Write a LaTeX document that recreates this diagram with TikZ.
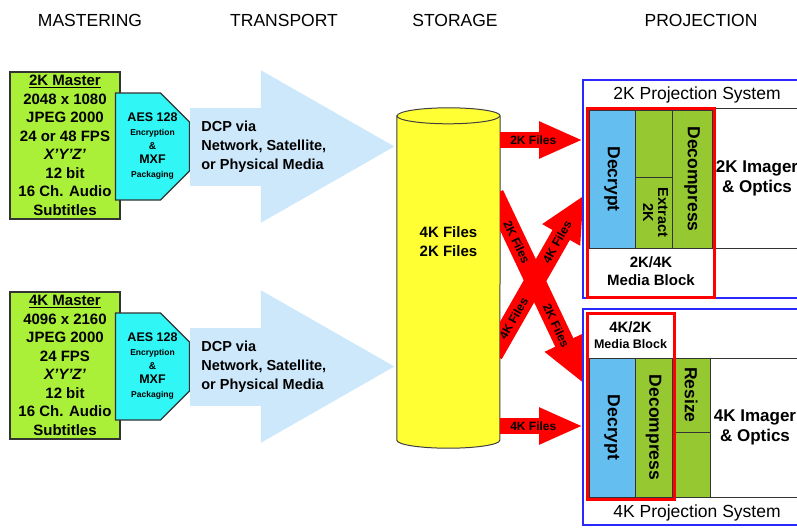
\documentclass[tikz,border=0pt]{standalone}
\usepackage{fontspec}
\setmainfont{Liberation Sans}
\usepackage{tikz}
\usetikzlibrary{arrows.meta,shapes.misc}

\definecolor{mastergreen}{RGB}{170,240,56}
\definecolor{aescyan}{RGB}{48,246,246}
\definecolor{dcpblue}{RGB}{205,232,250}
\definecolor{drumyellow}{RGB}{255,255,51}
\definecolor{sysblue}{RGB}{40,40,255}
\definecolor{cryptblue}{RGB}{100,190,240}
\definecolor{procgreen}{RGB}{150,200,50}

\newcommand{\aestext}{AES 128\\{\fontsize{8.5}{14}\selectfont Encryption}\\{\fontsize{10}{14}\selectfont\&}\\MXF\\{\fontsize{8.5}{14}\selectfont Packaging}}

\tikzset{
  head/.style={font=\fontsize{17.5}{20}\selectfont, inner sep=0pt},
  master/.style={draw=black!80, line width=1.2pt, fill=mastergreen, minimum width=110pt, minimum height=147pt,
    inner sep=0pt, align=center, font=\fontsize{15}{18.5}\selectfont\bfseries},
  aes/.style={chamfered rectangle, chamfered rectangle corners={north east,south east},
    chamfered rectangle xsep=12pt, chamfered rectangle ysep=17pt, draw=black!80, line width=1.2pt,
    fill=aescyan, minimum width=65pt, minimum height=107pt, inner sep=0pt, align=center,
    font=\fontsize{12.5}{14}\selectfont\bfseries},
  dcp/.style={line width=78pt, color=dcpblue, -{Triangle[width=142pt,length=136pt]}},
  dcptext/.style={align=left, inner sep=0pt, font=\fontsize{14.5}{19}\selectfont\bfseries},
  store/.style={minimum width=103pt, minimum height=324pt, inner sep=0pt},
  drum/.style={draw=black!75, line width=1pt, fill=drumyellow},
  files/.style={align=center, inner sep=0pt, font=\fontsize{15}{19}\selectfont\bfseries},
  fat/.style={line width=16pt, color=red, -{Triangle[width=34pt,length=44pt]}},
  fatx/.style={line width=20pt, color=red, -{Triangle[width=40pt,length=46pt]}, shorten <=-14pt},
  flbl/.style={text=black, inner sep=0pt, font=\fontsize{12}{12}\selectfont\bfseries},
  sys/.style={draw=sysblue, line width=1.8pt, fill=white, inner sep=0pt},
  systitle/.style={inner sep=0pt, font=\fontsize{17.5}{20}\selectfont},
  mblock/.style={draw=red, line width=3pt, inner sep=0pt},
  cell/.style={draw=black!80, line width=1pt, inner sep=0pt, font=\fontsize{17.5}{20}\selectfont\bfseries},
  crypt/.style={cell, fill=cryptblue},
  proc/.style={cell, fill=procgreen},
  imager/.style={cell, align=center, font=\fontsize{17}{20}\selectfont\bfseries},
  mbtext/.style={align=center, inner sep=0pt, font=\fontsize{15}{18}\selectfont\bfseries}
}

\begin{document}
\begin{tikzpicture}[x=1pt,y=1pt]
\useasboundingbox (0,0) rectangle (797,-527);
\clip (0,0) rectangle (797,-527);

\node (h1) [head] at (90,-20)  {MASTERING};
\node (h2) [head] at (284,-20) {TRANSPORT};
\node (h3) [head] at (455,-20) {STORAGE};
\node (h4) [head] at (701,-20) {PROJECTION};

\node (m2) [master] at (65,-145.5) {\underline{2K Master}\\2048 x 1080\\JPEG 2000\\24 or 48 FPS\\\textit{X'Y'Z'}\\12 bit\\16 Ch. Audio\\Subtitles};
\node (a2) [aes] at (152.5,-146.5) {\aestext};

\node (m4) [master] at (65,-365.5) {\underline{4K Master}\\4096 x 2160\\JPEG 2000\\24 FPS\\\textit{X'Y'Z'}\\12 bit\\16 Ch. Audio\\Subtitles};
\node (a4) [aes] at (152.5,-366.5) {\aestext};

\node (cyl) [store] at (448.5,-278) {};

\draw[dcp] (a2.east) -- (a2.east -| cyl.west);
\node (n2) [dcptext, anchor=west] at ([xshift=11pt]a2.east) {DCP via\\Network, Satellite,\\or Physical Media};
\draw[dcp] (a4.east) -- (a4.east -| cyl.west);
\node (n4) [dcptext, anchor=west] at ([xshift=11pt]a4.east) {DCP via\\Network, Satellite,\\or Physical Media};

\draw[drum] (cyl.north west) -- (cyl.south west) arc (180:360:51.5 and 8) -- (cyl.north east) arc (0:180:51.5 and 8) -- cycle;
\draw[drum, fill=none] (cyl.north west) arc (180:360:51.5 and 8);
\node (f) [files] at (448.5,-241.5) {4K Files\\2K Files};

\coordinate (p2) at (583,-140);
\coordinate (p4) at (583,-426);
\coordinate (o2) at (500,-207);
\coordinate (q2) at (584,-384);
\coordinate (o4) at (500,-342);
\coordinate (q4) at (584,-195);

\begin{scope}
\clip (cyl.north east) rectangle (800,-527);
\draw[fat] (cyl.east |- p2) -- (p2) node[flbl, pos=0.4] {2K Files};
\draw[fat] (cyl.east |- p4) -- (p4) node[flbl, pos=0.4] {4K Files};
\draw[fatx] (o4) -- (q4) node[flbl, sloped, pos=0.16] {4K Files} node[flbl, sloped, pos=0.68] {4K Files};
\draw[fatx] (o2) -- (q2) node[flbl, sloped, pos=0.2] {2K Files} node[flbl, sloped, pos=0.67] {2K Files};
\end{scope}

\node (s2) [sys, minimum width=217pt, minimum height=218pt] at (691.5,-189) {};
\node (t2) [systitle] at (697,-95) {2K Projection System};
\node (d2) [crypt, minimum width=46pt, minimum height=138pt] at (612,-179) {\rotatebox{-90}{Decrypt}};
\node (g2) [proc, minimum width=37pt, minimum height=67pt] at (653.5,-143.5) {};
\node (e2) [proc, minimum width=37pt, minimum height=71pt, font=\fontsize{14.5}{15}\selectfont\bfseries] at (653.5,-212.5) {\rotatebox{-90}{\begin{tabular}{@{}c@{}}Extract\\2K\end{tabular}}};
\node (c2) [proc, minimum width=40pt, minimum height=138pt] at (692,-179) {\rotatebox{-90}{Decompress}};
\node (i2) [imager, minimum width=86pt, minimum height=140pt] at (757,-178) {2K Imager\\\& Optics};
\node (b2) [mbtext] at (651,-271) {2K/4K\\Media Block};
\node (k2) [mblock, minimum width=127pt, minimum height=189pt] at (650.5,-202.5) {};

\node (s4) [sys, minimum width=217pt, minimum height=216pt] at (691.5,-417) {};
\node (t4) [systitle] at (697,-513) {4K Projection System};
\node (d4) [crypt, minimum width=46pt, minimum height=139pt] at (612,-427.5) {\rotatebox{-90}{Decrypt}};
\node (c4) [proc, minimum width=37pt, minimum height=139pt] at (653.5,-427.5) {\rotatebox{-90}{Decompress}};
\node (r4) [proc, minimum width=38pt, minimum height=74pt] at (691,-395) {\rotatebox{-90}{Resize}};
\node (g4) [proc, minimum width=38pt, minimum height=65pt] at (691,-464.5) {};
\node (i4) [imager, minimum width=90pt, minimum height=139pt] at (755,-427.5) {4K Imager\\\& Optics};
\node (b4) [mbtext, font=\fontsize{15}{16}\selectfont\bfseries] at (630.5,-335) {4K/2K\\{\fontsize{12.5}{16}\selectfont Media Block}};
\node (k4) [mblock, minimum width=87pt, minimum height=186pt] at (630.5,-406) {};

\end{tikzpicture}
\end{document}
